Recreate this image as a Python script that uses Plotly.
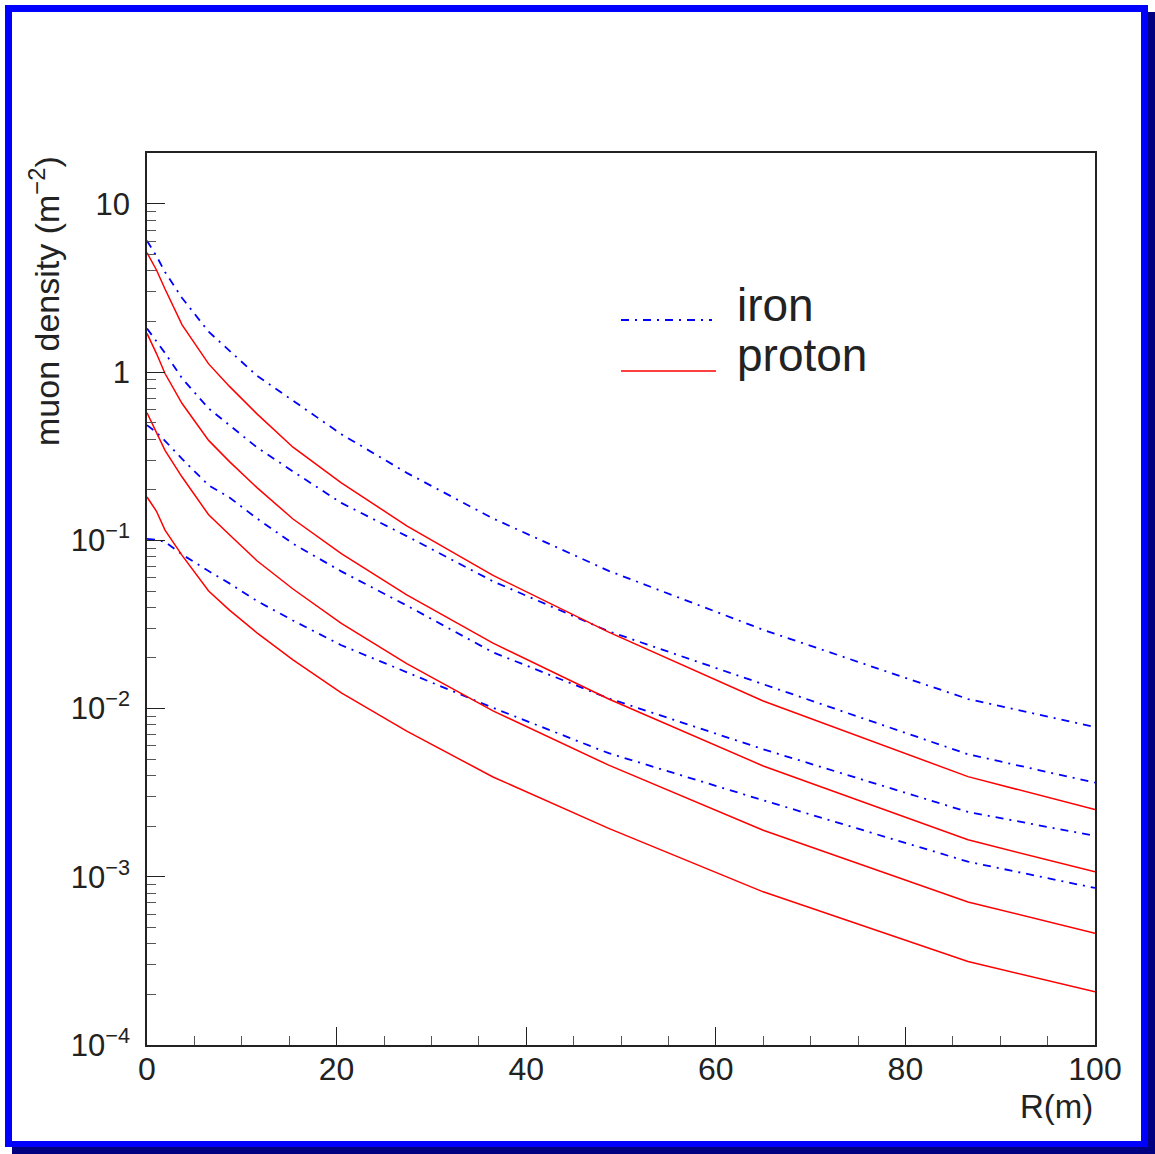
import plotly.graph_objects as go

# Radial distance from the shower core (m)
r_m = [0, 1.0, 1.9, 3.7, 6.5, 8.7, 11.6, 15.4, 20.5, 27.4, 36.5, 48.7, 65.0, 86.6, 100]

# Muon lateral density (m^-2), iron-initiated showers
iron_1 = [6.05, 4.90, 3.94, 2.76, 1.74, 1.34, 0.953, 0.677, 0.428, 0.252, 0.135, 0.0659, 0.0294, 0.0114, 0.00776]
iron_2 = [1.82, 1.53, 1.30, 0.920, 0.609, 0.484, 0.357, 0.257, 0.167, 0.106, 0.0571, 0.0288, 0.0140, 0.00535, 0.00363]
iron_3 = [0.484, 0.438, 0.391, 0.305, 0.2126, 0.180, 0.135, 0.0956, 0.0654, 0.0410, 0.0216, 0.0115, 0.00573, 0.00243, 0.00175]
iron_4 = [0.102, 0.101, 0.098, 0.0824, 0.0657, 0.0555, 0.0436, 0.0334, 0.0238, 0.0164, 0.0101, 0.00543, 0.00285, 0.00123, 0.000858]

# Muon lateral density (m^-2), proton-initiated showers
proton_1 = [5.13, 4.05, 3.12, 1.91, 1.12, 0.823, 0.565, 0.358, 0.220, 0.122, 0.0619, 0.0285, 0.0111, 0.00394, 0.00251]
proton_2 = [1.70, 1.29, 0.982, 0.651, 0.393, 0.294, 0.206, 0.134, 0.0833, 0.0474, 0.0245, 0.0114, 0.00456, 0.00166, 0.00107]
proton_3 = [0.573, 0.441, 0.343, 0.238, 0.142, 0.108, 0.0757, 0.0514, 0.0321, 0.0185, 0.00969, 0.00461, 0.00189, 0.000708, 0.000462]
proton_4 = [0.181, 0.149, 0.115, 0.0814, 0.0500, 0.0385, 0.0282, 0.0195, 0.0124, 0.00735, 0.00392, 0.00194, 0.000814, 0.000314, 0.000207]

x_ticks = [0, 20, 40, 60, 80, 100]
y_ticks = [1e-4, 1e-3, 1e-2, 1e-1, 1, 10]
y_ticktext = ["10<sup>−4</sup>", "10<sup>−3</sup>", "10<sup>−2</sup>", "10<sup>−1</sup>", "1", "10"]
y_minor = [k * 10.0 ** d for d in range(-4, 2) for k in range(2, 10) if k * 10.0 ** d < 20]

legend_labels = ["iron", "proton"]

W, H = 1155, 1154
L, R, T, B = 147, 60, 153, 109
PW, PH = W - L - R, H - T - B


def px(x):
    return (x - L) / PW


def py(y):
    return (H - B - y) / PH


IRON_COLOR = "#0000ff"
PROTON_COLOR = "#ff0000"
IRON_DASH = "8px,6px,2px,6px"
FONT = "Liberation Sans, Arial, sans-serif"
INK = "#222222"

fig = go.Figure()

for ys in [iron_1, iron_2, iron_3, iron_4]:
    fig.add_trace(go.Scatter(x=r_m, y=ys, mode="lines", showlegend=False,
                             line=dict(color=IRON_COLOR, width=1.8, dash=IRON_DASH)))
for ys in [proton_1, proton_2, proton_3, proton_4]:
    fig.add_trace(go.Scatter(x=r_m, y=ys, mode="lines", showlegend=False,
                             line=dict(color=PROTON_COLOR, width=1.5)))

shapes = [
    # canvas frame with dark drop shadow
    dict(type="rect", xref="paper", yref="paper", layer="below",
         x0=px(12), x1=px(1155), y0=py(1154), y1=py(12),
         fillcolor="#000080", line=dict(width=0)),
    dict(type="rect", xref="paper", yref="paper", layer="below",
         x0=px(5), x1=px(1148), y0=py(1147), y1=py(5),
         fillcolor="#0000ff", line=dict(width=0)),
    dict(type="rect", xref="paper", yref="paper", layer="below",
         x0=px(12), x1=px(1141), y0=py(1141), y1=py(12),
         fillcolor="#ffffff", line=dict(width=0)),
    # legend line samples
    dict(type="line", xref="paper", yref="paper",
         x0=px(621), x1=px(712), y0=py(320), y1=py(320),
         line=dict(color=IRON_COLOR, width=1.8, dash=IRON_DASH)),
    dict(type="line", xref="paper", yref="paper",
         x0=px(621), x1=px(716), y0=py(371), y1=py(371),
         line=dict(color=PROTON_COLOR, width=1.5)),
]

annotations = [
    dict(text=legend_labels[0], xref="paper", yref="paper", x=px(735), y=py(305),
         xanchor="left", yanchor="middle", showarrow=False,
         font=dict(family=FONT, size=46, color=INK)),
    dict(text=legend_labels[1], xref="paper", yref="paper", x=px(735), y=py(355),
         xanchor="left", yanchor="middle", showarrow=False,
         font=dict(family=FONT, size=46, color=INK)),
    dict(text="R(m)", xref="paper", yref="paper", x=1.0, y=py(1106),
         xanchor="right", yanchor="middle", showarrow=False,
         font=dict(family=FONT, size=33, color=INK)),
    dict(text="muon density (m<sup>−2</sup>)", xref="paper", yref="paper",
         x=px(45), y=py(154), xanchor="center", yanchor="top", textangle=-90,
         showarrow=False, font=dict(family=FONT, size=34, color=INK)),
]

fig.update_layout(
    width=W, height=H, autosize=False,
    margin=dict(l=L, r=R, t=T, b=B, pad=0),
    paper_bgcolor="#ffffff", plot_bgcolor="rgba(0,0,0,0)",
    shapes=shapes, annotations=annotations,
    showlegend=False,
)

fig.update_xaxes(
    range=[0, 100], showgrid=False, zeroline=False,
    showline=True, linecolor=INK, linewidth=1.5, mirror=True,
    tickmode="array", tickvals=x_ticks, ticks="inside", ticklen=18,
    tickwidth=1.2, tickcolor=INK, ticklabelstandoff=-5,
    tickfont=dict(family=FONT, size=32, color=INK),
    minor=dict(dtick=5, tick0=0, ticks="inside", ticklen=9, tickwidth=1.2, tickcolor="#555555"),
)

fig.update_yaxes(
    type="log", range=[-4, 1.303], showgrid=False, zeroline=False,
    showline=True, linecolor=INK, linewidth=1.5, mirror=True,
    tickmode="array", tickvals=y_ticks, ticktext=y_ticktext,
    ticks="inside", ticklen=18, tickwidth=1.2, tickcolor=INK, ticklabelstandoff=9,
    tickfont=dict(family=FONT, size=31, color=INK),
    minor=dict(tickmode="array", tickvals=y_minor, ticks="inside", ticklen=9,
               tickwidth=1.2, tickcolor="#555555"),
)

fig.write_html("out.html")
